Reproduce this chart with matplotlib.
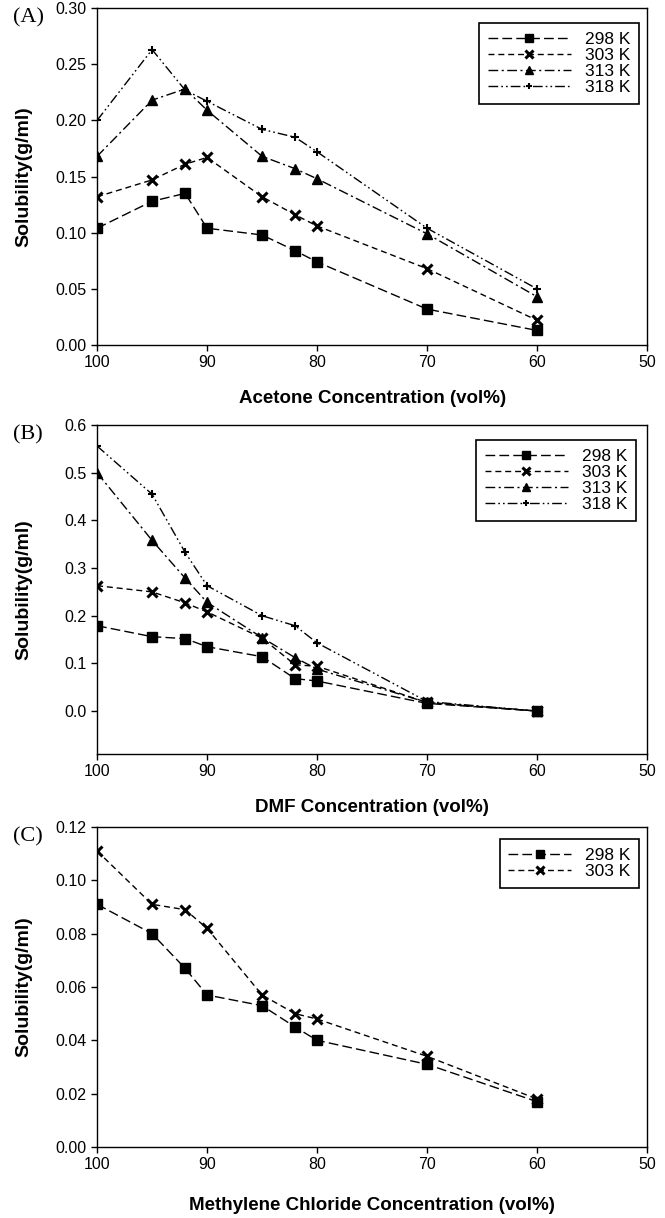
"""Solubility vs. solvent concentration, three panels (A) acetone, (B) DMF, (C) methylene chloride."""

import matplotlib

matplotlib.use("Agg")
import matplotlib.pyplot as plt

# concentrations (vol%)
conc = [100, 95, 92, 90, 85, 82, 80, 70, 60]

# (A) acetone
acetone_298 = [0.104, 0.128, 0.135, 0.104, 0.098, 0.084, 0.074, 0.032, 0.013]
acetone_303 = [0.132, 0.147, 0.161, 0.167, 0.132, 0.116, 0.106, 0.068, 0.022]
acetone_313 = [0.168, 0.218, 0.228, 0.209, 0.168, 0.157, 0.148, 0.099, 0.043]
acetone_318 = [0.200, 0.263, 0.227, 0.217, 0.192, 0.185, 0.172, 0.104, 0.050]

# (B) DMF
dmf_298 = [0.179, 0.156, 0.152, 0.135, 0.114, 0.068, 0.063, 0.016, 0.000]
dmf_303 = [0.263, 0.250, 0.227, 0.208, 0.153, 0.097, 0.094, 0.018, 0.000]
dmf_313 = [0.500, 0.358, 0.279, 0.228, 0.154, 0.112, 0.088, 0.018, 0.000]
dmf_318 = [0.556, 0.455, 0.333, 0.263, 0.200, 0.179, 0.143, 0.020, 0.000]

# (C) methylene chloride
mc_298 = [0.091, 0.080, 0.067, 0.057, 0.053, 0.045, 0.040, 0.031, 0.017]
mc_303 = [0.111, 0.091, 0.089, 0.082, 0.057, 0.050, 0.048, 0.034, 0.018]

temps = ["298 K", "303 K", "313 K", "318 K"]

plt.rcParams["font.family"] = ["Liberation Sans", "DejaVu Sans"]

STYLES = [
    dict(marker="s", ms=7.5, dashes=(7, 3)),
    dict(marker="x", ms=7, mew=2.2, dashes=(4.3, 2.8)),
    dict(marker="^", ms=7.5, dashes=(7, 2.5, 1.5, 2.5)),
    dict(marker="+", ms=6, mew=1.5, dashes=(7, 2.2, 1.2, 2.2, 1.2, 2.2)),
]


def draw_panel(ax, series, ylim, yticks, fmt, xlabel, tag, legend_box, handlelength, xpad):
    for ys, label, st in zip(series, temps, STYLES):
        ax.plot(conc, ys, color="black", lw=1.0, mfc="black", mec="black", label=label, **st)
    ax.set_xlim(100, 50)
    ax.set_xticks([100, 90, 80, 70, 60, 50])
    ax.set_ylim(*ylim)
    ax.set_yticks(yticks)
    ax.set_yticklabels([fmt.format(v) for v in yticks])
    ax.tick_params(direction="out", length=4, width=1, labelsize=11.5, top=False, right=False)
    for sp in ax.spines.values():
        sp.set_linewidth(1.0)
    ax.set_xlabel(xlabel, fontsize=13.5, fontweight="bold", labelpad=xpad)
    ax.set_ylabel("Solubility(g/ml)", fontsize=14, fontweight="bold")
    ax.yaxis.set_label_coords(-0.118, 0.5)
    ax.text(-0.152, 1.0, tag, transform=ax.transAxes, fontsize=16,
            family="Liberation Serif", va="top", ha="left")
    leg = ax.legend(loc="upper right", bbox_to_anchor=legend_box, borderaxespad=0,
                    fontsize=12.5, handlelength=handlelength, handletextpad=0.8,
                    labelspacing=0.05, borderpad=0.5, markerscale=0.75,
                    fancybox=False, framealpha=1, edgecolor="black")
    leg.get_frame().set_linewidth(1.2)


fig = plt.figure(figsize=(6.65, 12.18), dpi=100)
left, width = 0.146, 0.827
ax_a = fig.add_axes([left, 0.7167, width, 0.2767])
ax_b = fig.add_axes([left, 0.381, width, 0.270])
ax_c = fig.add_axes([left, 0.0583, width, 0.2627])

draw_panel(ax_a, [acetone_298, acetone_303, acetone_313, acetone_318], (0, 0.30),
           [0, 0.05, 0.10, 0.15, 0.20, 0.25, 0.30], "{:.2f}",
           "Acetone Concentration (vol%)", "(A)", (0.985, 0.955), 4.8, 14)
draw_panel(ax_b, [dmf_298, dmf_303, dmf_313, dmf_318], (-0.09, 0.6),
           [0, 0.1, 0.2, 0.3, 0.4, 0.5, 0.6], "{:.1f}",
           "DMF Concentration (vol%)", "(B)", (0.98, 0.954), 4.8, 14)
draw_panel(ax_c, [mc_298, mc_303], (0, 0.12),
           [0, 0.02, 0.04, 0.06, 0.08, 0.10, 0.12], "{:.2f}",
           "Methylene Chloride Concentration (vol%)", "(C)", (0.985, 0.9625), 3.6, 18)

fig.savefig("out.png", dpi=100)
